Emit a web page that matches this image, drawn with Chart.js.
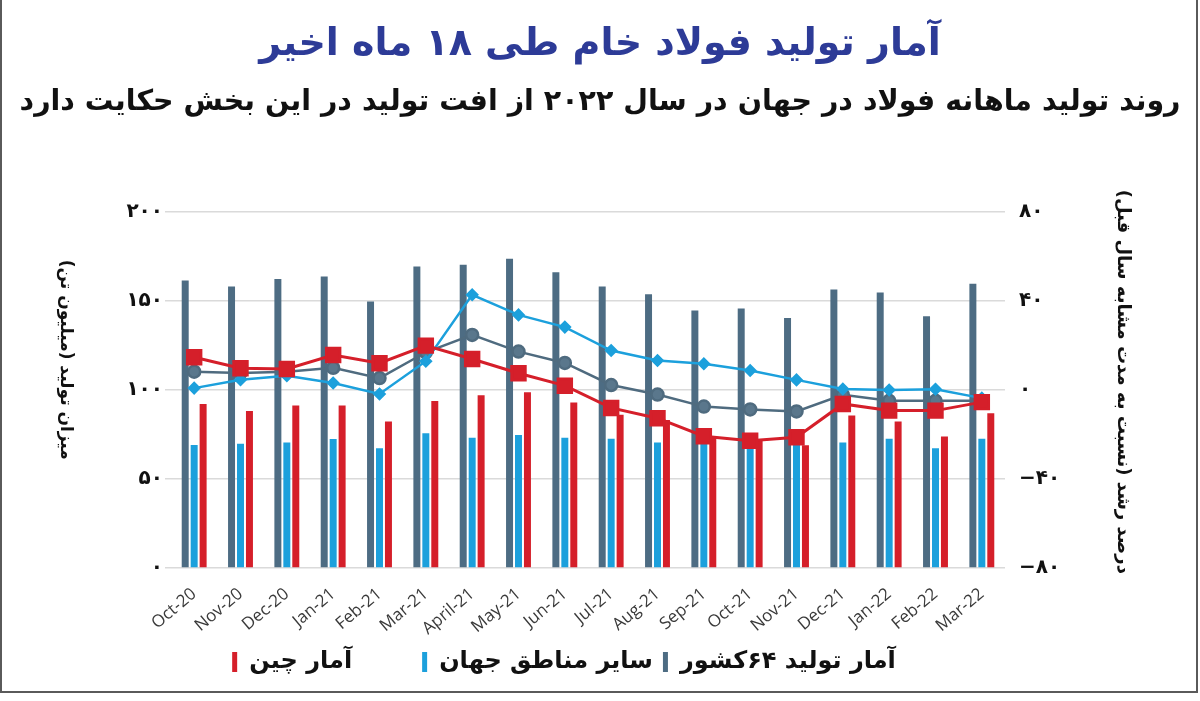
<!DOCTYPE html>
<html lang="fa">
<head>
<meta charset="utf-8">
<title>آمار تولید فولاد خام طی ۱۸ ماه اخیر</title>
<script src="https://cdn.jsdelivr.net/npm/chart.js@4.4.1/dist/chart.umd.min.js"></script>
<style>
  html, body { margin: 0; padding: 0; background: #fff; }
  #wrap { position: relative; width: 1200px; height: 701px; }
  #frame { position: absolute; left: 0; top: 0; width: 1194px; height: 691px; border: 2px solid #5a5a5a; border-top: none; pointer-events: none; }
  canvas { position: absolute; left: 0; top: 0; }
</style>
</head>
<body>
<div id="wrap">
  <canvas id="chart" width="1200" height="701"></canvas>
  <div id="frame"></div>
</div>
<script>
// months on the x axis
const months = ['Oct-20', 'Nov-20', 'Dec-20', 'Jan-21', 'Feb-21', 'Mar-21', 'April-21', 'May-21', 'Jun-21',
  'Jul-21', 'Aug-21', 'Sep-21', 'Oct-21', 'Nov-21', 'Dec-21', 'Jan-22', 'Feb-22', 'Mar-22'];

// production, million tonnes (left axis)
const prod64 = [161.4, 158.0, 162.2, 163.7, 149.6, 169.3, 170.2, 173.6, 166.1, 158.0, 153.7, 144.6, 145.7, 140.4, 156.4, 154.7, 141.4, 159.6];
const prodOther = [69.1, 69.7, 70.4, 72.5, 67.2, 75.7, 73.2, 74.7, 73.2, 72.6, 70.4, 71.0, 71.0, 69.8, 70.4, 72.6, 67.2, 72.6];
const prodChina = [92.1, 88.2, 91.2, 91.2, 82.2, 93.8, 97.0, 98.7, 92.9, 86.0, 83.1, 73.8, 71.9, 68.9, 85.6, 82.2, 73.8, 86.9];

// year-on-year growth, percent (right axis)
const growth64 = [8.2, 7.6, 8.2, 9.9, 5.3, 16.9, 24.7, 17.2, 12.1, 2.2, -2.1, -7.5, -8.8, -9.7, -2.2, -4.9, -4.9, -4.9];
const growthOther = [0.8, 4.6, 6.4, 3.1, -1.8, 12.9, 42.7, 33.7, 28.2, 17.7, 13.2, 11.7, 8.7, 4.5, 0.4, 0.0, 0.3, -3.7];
const growthChina = [14.7, 9.7, 9.4, 15.7, 12.0, 19.9, 13.9, 7.5, 1.9, -8.1, -12.7, -20.8, -22.8, -21.3, -6.3, -9.3, -9.3, -5.5];

// axis ranges
const leftTicks = [0, 50, 100, 150, 200];
const rightTicks = [-80, -40, 0, 40, 80];

// texts
const chartTitle = 'آمار تولید فولاد خام طی ۱۸ ماه اخیر';
const chartSubtitle = 'روند تولید ماهانه فولاد در جهان در سال ۲۰۲۲ از افت تولید در این بخش حکایت دارد';
const leftTitle = 'میزان تولید (میلیون تن)';
const rightTitle = 'درصد رشد (نسبت به مدت مشابه سال قبل)';
const seriesNames = ['آمار تولید ۶۴کشور', 'سایر مناطق جهان', 'آمار چین'];
// extra space before each legend label (right side of the text in rtl)
const legendGap = ['\u2003\u2003\u2003', '', '\u2003\u2003\u2002'];

// persian digits, LRM keeps the minus sign on the left
const faDigits = '۰۱۲۳۴۵۶۷۸۹';
const fa = v => '\u200E' + String(v).replace(/\d/g, d => faDigits[d]).replace('-', '−');

const FA_FONT = '"DejaVu Sans", sans-serif';
const cDark = '#4d6c83', cLight = '#1ca0dc', cRed = '#d51f2a';

// both axis titles are rotated clockwise in the original
const axisTitles = {
  id: 'axisTitles',
  afterDraw(chart) {
    const { ctx, chartArea: a } = chart;
    ctx.save();
    ctx.direction = 'rtl';
    ctx.fillStyle = '#111';
    ctx.textAlign = 'center';
    ctx.textBaseline = 'middle';
    [[a.left - 106, a.top + 148, leftTitle, 17], [a.right + 118, a.top + 170, rightTitle, 18]].forEach(([x, y, t, size]) => {
      ctx.save();
      ctx.font = 'bold ' + size + 'px ' + FA_FONT;
      ctx.translate(x, y);
      ctx.rotate(Math.PI / 2);
      ctx.fillText(t, 0, 0);
      ctx.restore();
    });
    ctx.restore();
  }
};

const barDefaults = { type: 'bar', yAxisID: 'y', order: 3, borderWidth: 0, barPercentage: 0.78, categoryPercentage: 0.58 };
const lineDefaults = { type: 'line', yAxisID: 'y1', fill: false, tension: 0 };

new Chart(document.getElementById('chart'), {
  data: {
    labels: months,
    datasets: [
      { ...barDefaults, label: seriesNames[0], data: prod64, backgroundColor: cDark },
      { ...barDefaults, label: seriesNames[1], data: prodOther, backgroundColor: cLight },
      { ...barDefaults, label: seriesNames[2], data: prodChina, backgroundColor: cRed },
      { ...lineDefaults, label: 'china-growth', data: growthChina, order: 0, borderColor: cRed, backgroundColor: cRed, borderWidth: 3, pointStyle: 'rect', pointRadius: 9.5 },
      { ...lineDefaults, label: 'other-growth', data: growthOther, order: 1, borderColor: cLight, backgroundColor: cLight, borderWidth: 2.5, pointStyle: 'rectRot', pointRadius: 5 },
      { ...lineDefaults, label: '64-growth', data: growth64, order: 2, borderColor: '#4f6b7f', backgroundColor: '#5a778c', borderWidth: 2.5, pointStyle: 'circle', pointRadius: 6 }
    ]
  },
  options: {
    responsive: false,
    animation: false,
    layout: { padding: { left: 0, right: 0, top: 0, bottom: 17 } },
    plugins: {
      title: {
        display: true, text: chartTitle, color: '#2d3b97',
        font: { family: FA_FONT, size: 38, weight: 'bold' },
        padding: { top: 22, bottom: 0 }
      },
      subtitle: {
        display: true, text: chartSubtitle, color: '#111',
        font: { family: FA_FONT, size: 28.5, weight: 'bold' },
        padding: { top: 18, bottom: 92 }
      },
      legend: {
        position: 'bottom', reverse: true, textDirection: 'rtl',
        labels: {
          generateLabels: chart => Chart.defaults.plugins.legend.labels.generateLabels(chart)
            .filter(item => item.datasetIndex < 3)
            .map(item => ({ ...item, text: legendGap[item.datasetIndex] + item.text })),
          boxWidth: 5, boxHeight: 20, padding: 10, color: '#111',
          font: { family: FA_FONT, size: 24, weight: 'bold' }
        }
      },
      tooltip: { enabled: false }
    },
    scales: {
      x: {
        grid: { display: false }, border: { display: false },
        ticks: { minRotation: 40, maxRotation: 40, autoSkip: false, color: '#3a3a3a', padding: 8, font: { family: '"Open Sans", sans-serif', size: 17 } },
        afterFit: s => { s.height = 72; }
      },
      y: {
        position: 'left', min: leftTicks[0], max: leftTicks[leftTicks.length - 1],
        grid: { color: '#dadada', lineWidth: 1.5, tickLength: 6 }, border: { display: false },
        ticks: { stepSize: 50, padding: 2, color: '#111', font: { family: FA_FONT, size: 20, weight: 'bold' }, callback: v => fa(v) },
        afterFit: s => { s.width = 171; }
      },
      y1: {
        position: 'right', min: rightTicks[0], max: rightTicks[rightTicks.length - 1],
        grid: { display: false }, border: { display: false },
        ticks: { stepSize: 40, padding: 6, color: '#111', font: { family: FA_FONT, size: 20, weight: 'bold' }, callback: v => fa(v) },
        afterFit: s => { s.width = 195; }
      }
    }
  },
  plugins: [axisTitles]
});
</script>
</body>
</html>
